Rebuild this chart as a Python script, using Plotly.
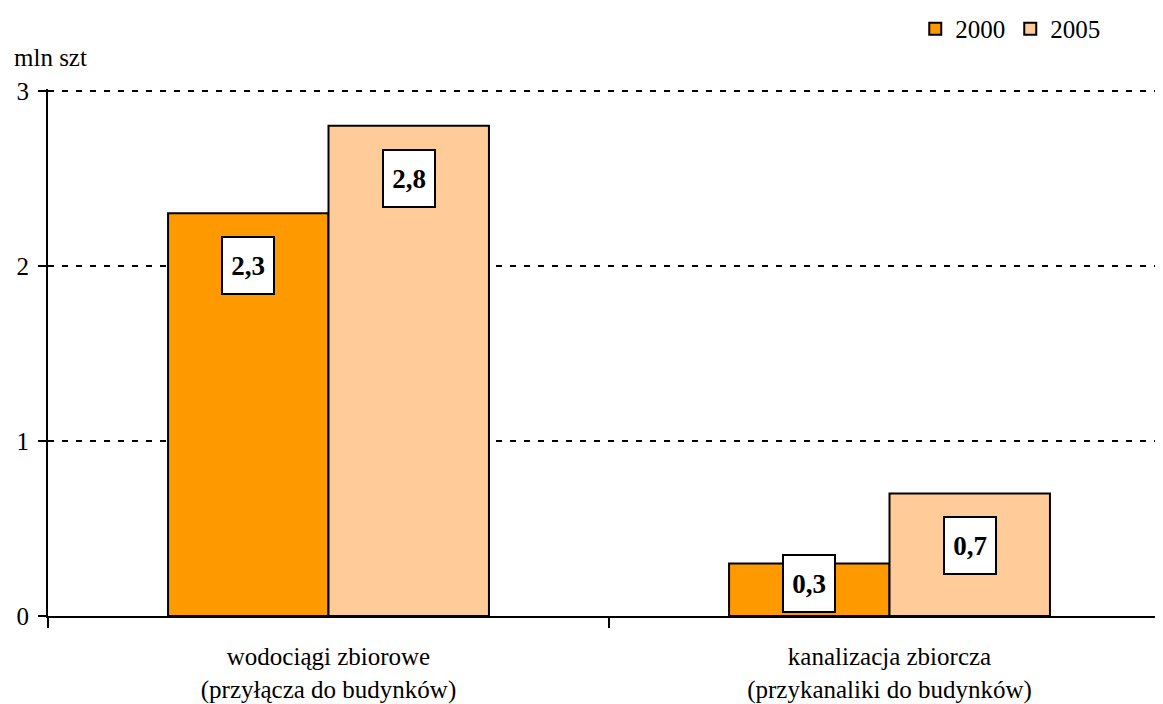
import plotly.graph_objects as go

categories = ["wodociągi zbiorowe<br>(przyłącza do budynków)",
              "kanalizacja zbiorcza<br>(przykanaliki do budynków)"]
years = ["2000", "2005"]
values_2000 = [2.3, 0.3]
values_2005 = [2.8, 0.7]
colors = {"2000": "#FF9900", "2005": "#FFCC99"}

FONT = "Liberation Serif"

fig = go.Figure()
for year, vals in zip(years, [values_2000, values_2005]):
    fig.add_trace(go.Bar(
        x=categories,
        y=vals,
        name=year,
        marker=dict(color=colors[year], line=dict(color="black", width=2)),
    ))

# value labels in white boxes, like the Excel original
offsets = {"2000": -0.143, "2005": 0.143}
for year, vals in zip(years, [values_2000, values_2005]):
    for i, v in enumerate(vals):
        short = v < 0.45  # bar too short for the box -> sit it on the axis
        fig.add_annotation(
            x=i + offsets[year], y=0 if short else v,
            xref="x", yref="y",
            text="<b>" + f"{v:.1f}".replace(".", ",") + "</b>",
            showarrow=False,
            yanchor="bottom" if short else "top",
            yshift=3 if short else -23,
            font=dict(family=FONT, size=27, color="black"),
            width=36, height=41,
            bgcolor="white", bordercolor="black", borderwidth=2, borderpad=7,
        )

fig.add_annotation(
    x=-0.0323, y=1.0607, xref="paper", yref="paper",
    text="mln szt", showarrow=False, xanchor="left", yanchor="middle",
    font=dict(family=FONT, size=25, color="black"),
)

fig.update_layout(
    width=1155, height=696,
    margin=dict(l=40, r=0, t=81, b=88, autoexpand=False),
    paper_bgcolor="white", plot_bgcolor="white",
    barmode="group", bargap=0.428, bargroupgap=0,
    font=dict(family=FONT, size=25, color="black"),
    legend=dict(orientation="h", xref="container", yref="container",
                x=0.95, xanchor="right", y=0.970, yanchor="middle",
                font=dict(family=FONT, size=25), itemwidth=30,
                traceorder="normal"),
    showlegend=True,
)
fig.update_xaxes(
    range=[-0.5, 1.4875], automargin=False,
    showline=True, linecolor="black", linewidth=2,
    ticks="outside", tickson="boundaries", ticklen=10, tickwidth=2, tickcolor="black",
    ticklabelstandoff=17,
    showgrid=False,
    tickfont=dict(family=FONT, size=25, color="black"),
)
fig.update_yaxes(
    range=[0, 3.01], dtick=1, automargin=False,
    showline=True, linecolor="black", linewidth=2,
    ticks="outside", ticklen=8, tickwidth=2, tickcolor="black",
    ticklabelstandoff=4,
    showgrid=True, gridcolor="black", gridwidth=2, griddash="6px,8px",
    zeroline=False,
    tickfont=dict(family=FONT, size=25, color="black"),
)

fig.write_html("out.html")
